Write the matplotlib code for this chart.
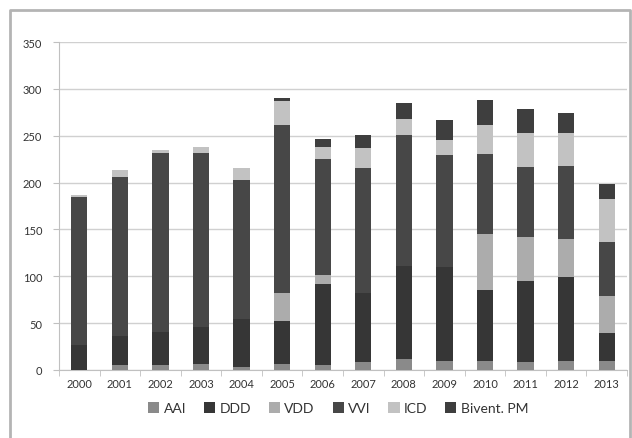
import numpy as np
import matplotlib.pyplot as plt
from matplotlib.lines import Line2D

plt.rcParams['font.family'] = ['Lato', 'DejaVu Sans']

# data
years = ['2000', '2001', '2002', '2003', '2004', '2005', '2006',
         '2007', '2008', '2009', '2010', '2011', '2012', '2013']
aai = [0, 5, 5, 6, 3, 6, 5, 8, 12, 10, 10, 8, 10, 10]
ddd = [27, 31, 35, 40, 51, 46, 87, 74, 99, 100, 75, 87, 89, 29]
vdd = [0, 0, 0, 0, 0, 30, 9, 0, 0, 0, 60, 47, 41, 40]
vvi = [158, 170, 192, 186, 149, 179, 124, 134, 140, 119, 86, 75, 78, 58]
icd = [2, 7, 3, 6, 13, 26, 13, 21, 17, 16, 30, 36, 35, 45]
biv = [0, 0, 0, 0, 0, 3, 8, 14, 17, 22, 27, 25, 21, 16]

names = ['AAI', 'DDD', 'VDD', 'VVI', 'ICD', 'Bivent. PM']
series = [aai, ddd, vdd, vvi, icd, biv]
colors = ['#8a8a8a', '#363636', '#acacac', '#474747', '#c2c2c2', '#3e3e3e']

fig = plt.figure(figsize=(6.32, 4.39), dpi=100)
ax = fig.add_axes([0.0934, 0.155, 0.8986, 0.747])

x = np.arange(len(years))
bottom = np.zeros(len(years))
for vals, name, c in zip(series, names, colors):
    ax.bar(x, vals, 0.4, bottom=bottom, color=c, label=name, zorder=3)
    bottom += np.array(vals)

ax.set_xlim(-0.5, len(years) - 0.5)
ax.set_ylim(0, 350)
ax.set_yticks(np.arange(0, 351, 50))
ax.yaxis.grid(True, color='#d0d0d0', lw=1, zorder=0)
ax.set_xticks(x)
ax.set_xticklabels(years)
ax.set_xticks(np.arange(-0.5, len(years), 1), minor=True)
ax.tick_params(axis='x', which='major', length=0, pad=6, labelsize=8, labelcolor='#333333')
ax.tick_params(axis='x', which='minor', length=4, color='#c0c0c0')
ax.tick_params(axis='y', length=4, color='#c0c0c0', labelsize=8, labelcolor='#333333', pad=8)
for s in ['top', 'right']:
    ax.spines[s].set_visible(False)
ax.spines['left'].set_color('#c0c0c0')
ax.spines['bottom'].set_color('#c0c0c0')

fig.legend(loc='center', bbox_to_anchor=(0.535, 0.068), ncol=6, frameon=False,
           fontsize=10, handlelength=0.8, handleheight=0.8, handletextpad=0.3,
           columnspacing=1.3, labelcolor='#333333')

# outer border (left, top, right; bottom is cut off)
bx0, bx1, by = 10 / 632, 630 / 632, 1 - 11 / 439
fig.lines.append(Line2D([bx0, bx0, bx1, bx1], [0, by, by, 0],
                        transform=fig.transFigure, color='#b4b4b4', lw=2))

fig.savefig('out.png', dpi=100)
